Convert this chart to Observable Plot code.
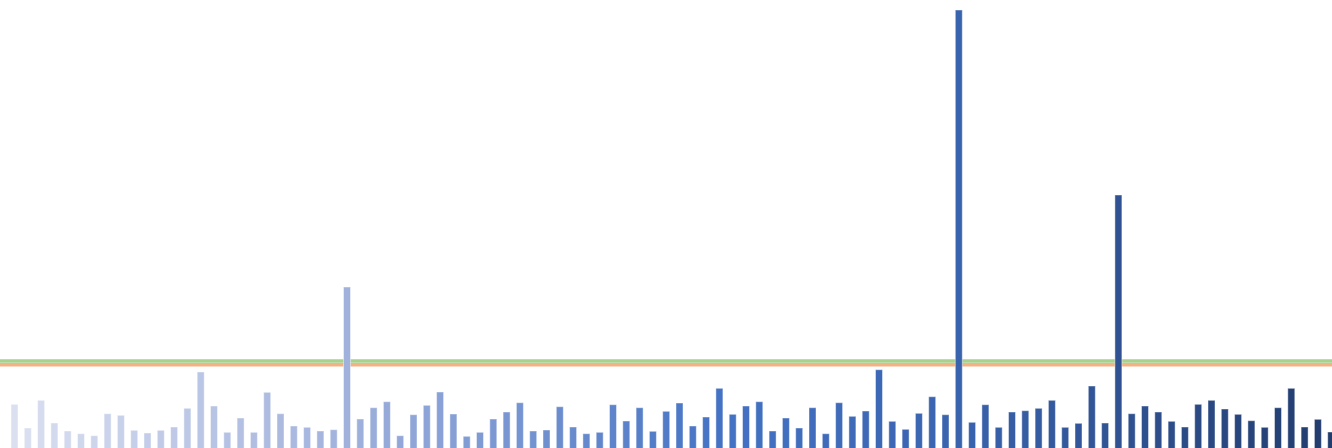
<!DOCTYPE html>
<html>
<head>
<meta charset="utf-8">
<script src="https://cdn.jsdelivr.net/npm/d3@7"></script>
<script src="https://cdn.jsdelivr.net/npm/@observablehq/plot@0.6"></script>
<style>
  html, body { margin: 0; padding: 0; background: #fff; overflow: hidden; }
  #chart svg { display: block; }
</style>
</head>
<body>
<div id="chart"></div>
<script>
// Bar values (arbitrary units)
const values = [
  55.7, 32, 59.7, 37, 29, 26.3, 24.3, 46.3, 44.7, 29.7,
  27, 29.7, 33, 51.7, 88, 54, 27.7, 42, 27.7, 67.7,
  46.3, 34, 32.7, 29, 30.3, 173, 41, 52.3, 58.3, 24.3,
  45.3, 54.7, 68, 46, 23.7, 27.7, 41, 48, 57.3, 29,
  30, 53.3, 33, 26.3, 27.7, 55.3, 39, 52.3, 28.7, 48.7,
  57, 34, 43, 71.7, 45.7, 54, 58.3, 29, 42, 32,
  52.3, 26.3, 57.3, 43.7, 49, 90.3, 38.7, 30.7, 46.7, 63.3,
  45.3, 450, 37.7, 55.3, 32.7, 48, 49.3, 51.7, 59.7, 32.7,
  36.7, 74, 37, 265, 46.3, 54, 48, 38.7, 33, 55.7,
  59.7, 51, 45.7, 39.3, 32.7, 52.3, 71.7, 33, 40.7, 28
];
const categories = values.map((_, i) => i);
// Reference lines
const greenLine = [99.5];
const orangeLine = [95.8];

const data = categories.map((c, i) => ({cat: c, value: values[i]}));

const chart = Plot.plot({
  width: 1332,
  height: 448,
  margin: 0,
  x: {type: "band", domain: categories, range: [11, 1334.7], paddingInner: 0.474, paddingOuter: 0, round: false, axis: null},
  y: {domain: [0, 450], range: [460, 10], axis: null},
  color: {
    type: "linear",
    domain: [0, 25, 53, 71, 99],
    range: ["#dbe0f1", "#a0b1dc", "#4472c4", "#3a63ae", "#223c6d"],
    interpolate: "rgb"
  },
  marks: [
    Plot.ruleY(greenLine, {y: d => d, stroke: "#a9d18e", strokeWidth: 3.5}),
    Plot.ruleY(orangeLine, {y: d => d, stroke: "#f4b183", strokeWidth: 3.5}),
    Plot.barY(data, {
      x: "cat", y: "value", fill: "cat",
      stroke: "white", strokeOpacity: 0.45, strokeWidth: 1
    })
  ]
});
document.getElementById("chart").appendChild(chart);
</script>
</body>
</html>
